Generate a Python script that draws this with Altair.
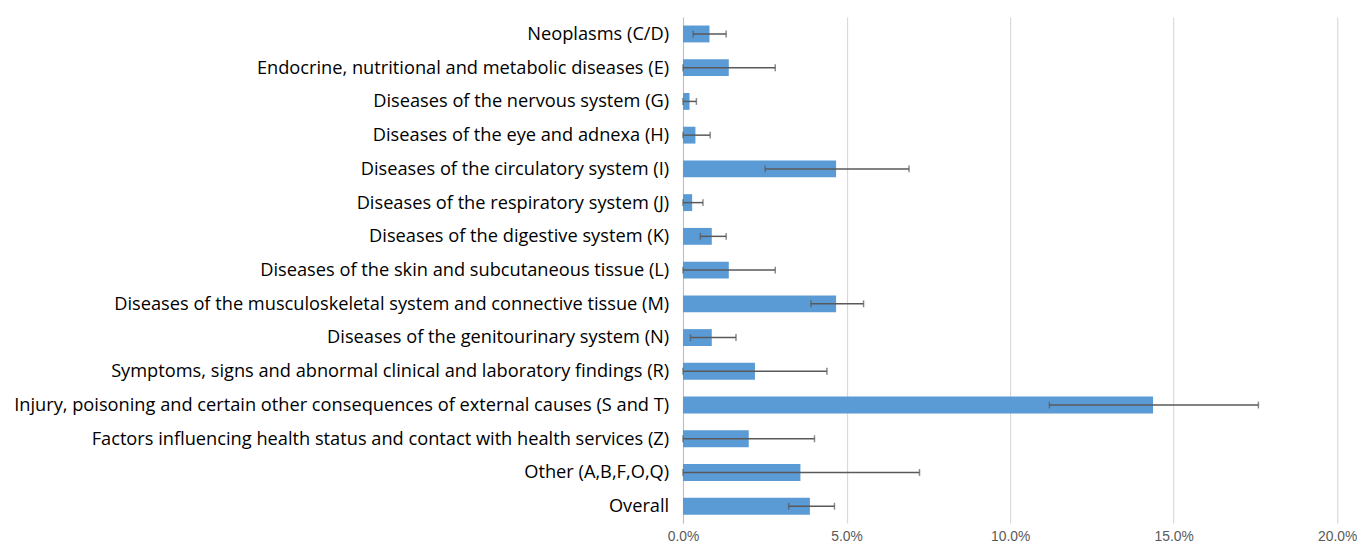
import altair as alt
import pandas as pd

categories = [
    "Neoplasms  (C/D)",
    "Endocrine, nutritional and metabolic diseases (E)",
    "Diseases of the nervous system (G)",
    "Diseases of the eye and adnexa (H)",
    "Diseases of the circulatory system (I)",
    "Diseases of the respiratory system (J)",
    "Diseases of the digestive system (K)",
    "Diseases of the skin and subcutaneous tissue (L)",
    "Diseases of the musculoskeletal system and connective tissue (M)",
    "Diseases of the genitourinary system (N)",
    "Symptoms, signs and abnormal clinical and laboratory findings (R)",
    "Injury, poisoning and certain other consequences of external causes (S and T)",
    "Factors influencing health status and contact with health services (Z)",
    "Other (A,B,F,O,Q)",
    "Overall",
]
values = [0.0081, 0.0140, 0.0020, 0.0038, 0.0468, 0.0028, 0.0088, 0.0140,
          0.0468, 0.0088, 0.0220, 0.1437, 0.0201, 0.0359, 0.0388]
lows = [0.0031, 0.0, 0.0, 0.0, 0.0251, 0.0, 0.0053, 0.0,
        0.0391, 0.0023, 0.0, 0.1120, 0.0, 0.0, 0.0323]
highs = [0.0132, 0.0282, 0.0041, 0.0083, 0.0691, 0.0061, 0.0132, 0.0282,
         0.0552, 0.0162, 0.0440, 0.1759, 0.0402, 0.0723, 0.0463]

df = pd.DataFrame({"cat": categories, "val": values, "lo": lows, "hi": highs})

FONT = "Open Sans"

y = alt.Y("cat:N", sort=categories, title=None,
          scale=alt.Scale(paddingInner=0.5, paddingOuter=0.25),
          axis=alt.Axis(ticks=False, labelPadding=14.5, labelFontSize=18.45,
                        labelFont=FONT, labelColor="#000000", labelLimit=900,
                        domainColor="#bfbfbf", domainWidth=1))
xscale = alt.Scale(domain=[0, 0.2])
xaxis = alt.Axis(format=".1%", values=[0, 0.05, 0.1, 0.15, 0.2], ticks=False,
                 domain=False, labelFontSize=14, labelFont="Liberation Sans",
                 labelColor="#595959", labelPadding=7, labelFlush=False,
                 gridColor="#d9d9d9", gridWidth=1.2)

bars = alt.Chart(df).mark_bar(color="#5b9bd5").encode(
    x=alt.X("val:Q", scale=xscale, axis=xaxis, title=None), y=y)

rules = alt.Chart(df).mark_rule(color="#595959", strokeWidth=1.5).encode(
    x=alt.X("lo:Q", scale=xscale), x2="hi:Q", y=alt.Y("cat:N", sort=categories))

caps_lo = alt.Chart(df).mark_tick(color="#595959", thickness=1.5, size=7).encode(
    x=alt.X("lo:Q", scale=xscale), y=alt.Y("cat:N", sort=categories))
caps_hi = alt.Chart(df).mark_tick(color="#595959", thickness=1.5, size=7).encode(
    x=alt.X("hi:Q", scale=xscale), y=alt.Y("cat:N", sort=categories))

chart = alt.layer(bars, rules, caps_lo, caps_hi).properties(
    width=662, height=512, background="white",
    padding={"left": 5, "top": 6, "right": 0, "bottom": 0}
).configure_view(stroke=None)

chart.save("out.html", embed_options={"renderer": "svg", "actions": False})
